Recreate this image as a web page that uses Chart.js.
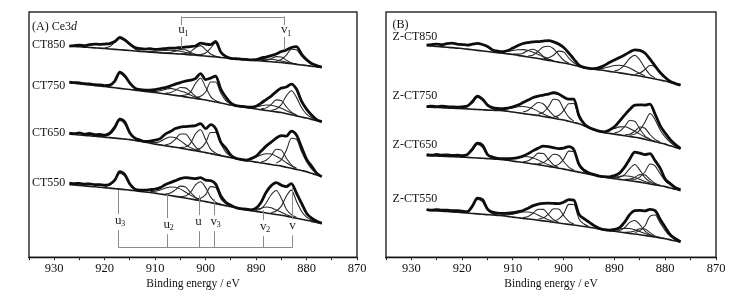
<!DOCTYPE html>
<html>
<head>
<meta charset="utf-8">
<script src="https://cdn.jsdelivr.net/npm/chart.js@4.4.1/dist/chart.umd.min.js"></script>
<style>
body{margin:0;background:#fff;}
#wrap{position:relative;width:739px;height:299px;}
#boxA{position:absolute;left:0;top:0;width:370px;height:299px;}
#boxB{position:absolute;left:370px;top:0;width:369px;height:299px;}
</style>
</head>
<body>
<div id="wrap">
  <div id="boxA"><canvas id="chartA" width="370" height="299"></canvas></div>
  <div id="boxB"><canvas id="chartB" width="369" height="299"></canvas></div>
</div>
<script>
// binding energy grid (eV), high to low
var energy = [927,926,925,924,923,922,921,920,919,918,917,916,915,914,913,912,911,910,909,908,
    907,906,905,904,903,902,901,900,899,898,897,896,895,894,893,892,891,890,889,888,
    887,886,885,884,883,882,881,880,879,878,877];

// panel A - measured spectra (stacked intensity, a.u.)
var ct850 = [211,211.5,212,211.3,212.5,213,212.6,213, 213.5,215.5,219.5,217,213,209.5,208.5,208,208.3,207.7,
    208,208.5,209,209,209.5,210,210.5,211,214,213, 212.5,215.5,205,200.5,198.6,198.3,197.9,197.6,197.2,197.3,
    199,200,201.5,203,205.5,207,209.5,210.5,203,197.5, 193.5,191.5,190];
var ct750 = [175,174.4,174.2,173.3,173.2,172.3,172.2,171.5, 172,176,185,181,174,169,167.5,167,167,167.5,
    168.5,169.5,171,173,174.5,176,177,178.5,183.5,177.5, 179,181,168,160,154,151.5,150.8,150.2,150,150.8,
    154,157.5,161,165.5,169,170,173,168,156,148, 142,137.5,135.5];
var ct650 = [124,123.5,124.2,123,123.6,122.5,122.6,122, 124,130,138,135,124,119,117,115.6,116,117,
    118.5,123,125.5,128.5,130,130.5,131,131.5,133.5,128.5, 132.5,128.5,115,109,102,98.8,97.8,97,98.5,101,
    106,111,115,119,121.5,121,126,122,110,98, 91,84,80.5];
var ct550 = [74,73.5,73.8,73,73.3,72.5,72.6,72, 73,77,85.5,82.5,73,68,67,67,67.5,68,
    69.5,72.5,74.5,76.5,78.5,79.5,79,78.5,79.5,77, 76.5,73,61.5,55,52,49.5,48.5,48,47.3,49,
    55,65,71.5,74.5,72,70.5,73.5,64,54,44, 39,36,34];

// panel A - backgrounds
var ct850Base = [211,210.6,210.3,209.9,209.6,209.2,208.9,208.5, 208.1,207.7,207.3,206.9,206.5,206.1,205.7,205.3,204.9,204.5,
    204.2,203.9,203.6,203.3,203,202.6,202.2,201.8,201.4,201, 200.5,200,199.5,199,198.5,198.1,197.7,197.3,196.9,196.5,
    196.1,195.7,195.3,194.9,194.5,193.9,193.3,192.7,192.1,191.5, 190.8,190.2,189.5];
var ct750Base = [174.5,173.9,173.4,172.8,172.2,171.6,171.1,170.5, 169.9,169.3,168.7,168.1,167.5,166.9,166.3,165.7,165.1,164.5,
    163.8,163.1,162.4,161.7,161,160.2,159.4,158.6,157.8,157, 156,155,154,153,152,151.2,150.4,149.6,148.8,148,
    147.3,146.6,145.9,145.2,144.5,143.4,142.3,141.2,140.1,139, 137.7,136.3,135];
var ct650Base = [123,122.6,122.1,121.7,121.3,120.9,120.4,120, 119.5,119,118.5,118,117.5,116.7,115.8,115,114,113,
    112.2,111.4,110.6,109.8,109,108.1,107.2,106.3,105.4,104.5, 103.5,102.5,101.5,100.5,99.5,98.5,97.5,96.5,95.8,95,
    94.2,93.4,92.6,91.8,91,89.9,88.8,87.7,86.6,85.5, 83.8,82.2,80.5];
var ct550Base = [72.5,72.1,71.6,71.2,70.8,70.4,69.9,69.5, 69,68.5,68,67.5,67,66.4,65.8,65.2,64.6,64,
    63.2,62.4,61.6,60.8,60,59.1,58.2,57.3,56.4,55.5, 54.5,53.5,52.5,51.5,50.5,49.3,48.2,47.2,46.5,45.8,
    45,44.2,43.4,42.7,42,41,40,39,38,37, 35.8,34.7,33.5];

// panel A - fitted components: [first energy, heights above background, 1 eV steps down]
var ct850Fit = [
    [920,[0.8,2.5,7,11.5,9.5,5.5,2,0.7]],
    [912,[0.3,0.7,1.3,2,2.7,3.1,3.1,2.7,2,1.3,0.7,0.3]],
    [908,[0.3,1,2.6,4.6,4.6,2.6,1,0.3]],
    [905,[0.3,1,3,7.5,10,6.5,2.5,0.8,0.3]],
    [902,[0.3,1,3,8.5,14,5,1.2,0.3,0.1]],
    [893,[0.1,0.2,0.4,0.8,1.4,2,2.4,2.2,1.6,1,0.5,0.2]],
    [889,[0.4,1.2,3,5.5,5.5,3,1,0.3]],
    [886,[1.1,3.1,8,14.5,14.5,9,4.6,1.9,0.8,0.3]]
];
var ct750Fit = [
    [920,[0.6,2,6,15,12,6,2,0.6]],
    [911,[0.4,1.2,2.6,4.5,6.3,6,5,4.3,2.6,1.3,0.5]],
    [908,[0.7,2,5,8.5,9,6,2.4,0.8]],
    [905,[0.6,1.8,5.5,15,21,13,4.5,1.5,0.5]],
    [902,[1,3,8,19,20,10,3.5,1]],
    [893,[0.3,0.6,1.2,2.4,4,5.5,6,5.5,4.3,3,1.8,0.9]],
    [889,[0.9,2.6,6.8,12,12,6.8,2.6,0.9]],
    [887,[1,2.9,8,17.8,24,18.5,9.5,4,1.7,0.6,0.2]]
];
var ct650Fit = [
    [920,[1,3,9,18,15,6,2,0.7]],
    [911,[0.5,1.5,3.5,7,9.5,9.5,7.5,4.5,2.3,1,0.4]],
    [908,[1,3,8,14,15,10,4,1.2]],
    [905,[0.7,2,6.5,17,22,13,4.5,1.5,0.5]],
    [902,[1.5,3.5,10,21,22,12,4.5,1.5]],
    [893,[0.3,0.6,2.8,5,8,10,10.5,9,7,4.5,2.5,1.2]],
    [889,[1,3.5,9,16,16,9,3.5,1]],
    [886,[2.3,6.5,17,30,30,19,10,4.5,1.6,0.5]]
];
var ct550Fit = [
    [920,[0.9,3,8,16,13.5,5.5,1.5,0.6]],
    [911,[0.8,2,4,6.5,8.5,9,8,6,3.8,2,0.8]],
    [908,[0.8,2.5,6.5,11,11,6.5,2.5,0.8]],
    [905,[0.6,2,6.5,15,19,14,5.5,1.5,0.5]],
    [902,[0.8,2.5,7,16,16,6,2,0.5]],
    [892,[0.3,0.7,2,4,6,6,4.5,3,1.5,0.6]],
    [890,[1,3.5,10,19,24,17,7,2.5,0.8]],
    [887,[1.2,3.5,9,20,27,17,8,3,1.2,0.4,0.1]]
];

// panel B - measured spectra
var zct850 = [212,212.5,213,212.4,213.5,214,213,212.5, 212,212.8,213.7,212.5,210.5,207,206,205.3,206.5,209,
    211.5,213.5,214.5,215.2,215.5,216,216.3,215.2,213,209.5, 204,198,192,189.7,188.7,188.5,189.5,191.5,194.5,197,
    199.5,202,205,207.2,206.7,204,198,191,184.5,179.5, 175.5,173.5,172];
var zct750 = [150.5,151,150.4,151,150.5,150.2,150,150.3, 151,155.5,161,158,152,149.5,148.7,148.5,149,150.3,
    152,154.5,157,159.5,161,162,163,164.3,163,160, 158,158,141.5,133.5,129.6,127.6,126,125.3,127,130.3,
    136,142,147.5,152,152.3,152,153,143,131.5,124, 117.5,112.5,108.7];
var zct650 = [102.5,102,102.6,102,102.3,101.6,102,101.5, 102.5,108,114,112,102.5,100,98.7,98.4,98.5,98.7,
    99.5,101,103.5,106.5,109,111,110.5,109.5,108.5,109, 110.5,107.5,93,87,84,82.5,81,80.5,80.3,81.5,
    84,90,98,105,104,102.5,103.5,96.5,89,78, 73.5,69.5,67.5];
var zct550 = [47.5,47,47.5,47,47,46.5,46.6,46, 45.5,51,59,57.5,48,45,44,43.8,44,44.5,
    45.5,46.7,49,51.5,53,53.7,54,53.7,53.5,55, 57.5,57,43,38.5,35,31.5,28.8,27.5,27,27.8,
    29.5,35,42.5,46.5,46.8,46.3,47.8,46.5,38,30, 22.5,18.5,15.5];

// panel B - backgrounds
var zct850Base = [211.5,211.1,210.6,210.2,209.8,209.4,208.9,208.5, 207.9,207.3,206.7,206.1,205.5,204.9,204.4,203.8,203.2,202.5,
    201.7,200.9,200.1,199.3,198.5,197.6,196.7,195.8,194.9,194, 193,191.8,190.6,189.4,188.5,187.9,187.2,186.5,185.7,185,
    184.2,183.4,182.6,181.8,181,180,179,178,177,176, 174.7,173.3,172];
var zct750Base = [150,149.8,149.6,149.4,149.1,148.9,148.7,148.5, 148.2,147.9,147.6,147.3,147,146.8,146.7,146.5,145.8,145,
    144.3,143.6,142.9,142.2,141.5,140.6,139.7,138.8,137.9,137, 135.8,134.6,133.4,131.4,129.2,127.2,125.6,124.4,123.7,123,
    122.2,121.4,120.6,119.8,119,117.8,116.6,115.4,114.2,113, 111.3,109.7,108];
var zct650Base = [101.5,101.3,101.1,100.9,100.6,100.4,100.2,100, 99.7,99.4,99.1,98.8,98.5,98.2,97.8,97.5,96.8,96,
    95.3,94.6,93.9,93.2,92.5,91.6,90.7,89.8,88.9,88, 87,86,85,84,83,82,80.8,80,79.2,78.5,
    77.8,77.1,76.4,75.7,75,74.1,73.2,72.3,71.4,70.5, 69.2,67.8,66.5];
var zct550Base = [47,46.6,46.3,45.9,45.6,45.2,44.9,44.5, 44.1,43.7,43.3,42.9,42.5,42.2,41.8,41.5,40.8,40,
    39.4,38.8,38.2,37.6,37,36.3,35.6,34.9,34.2,33.5, 32.8,32.1,31.4,30.7,30,29.2,28.2,27.2,26.5,25.9,
    25.2,24.5,23.8,23.2,22.5,21.7,20.9,20.1,19.3,18.5, 17.3,16.2,15];

// panel B - fitted components
var zct850Fit = [
    [913,[0.5,1.2,2.5,4,5.5,6.5,6.5,5.5,4,2.5,1.2,0.5]],
    [910,[0.4,1.2,3,6.5,8.5,6.5,3,1.2,0.4]],
    [907,[1,2.8,7.5,12.5,14,12.5,7.5,2.8,1]],
    [904,[0.8,2.5,6,11,11,6,2.5,0.8]],
    [894,[0.5,1.2,2.6,4.5,6.5,7.5,7.5,6.5,4.5,2.6,1.2]],
    [890,[1.2,3.5,9,16,20,16,9,3.5,1.2]],
    [886,[1,3,7.5,12.5,12.5,7.5,3.5,1.3,0.5,0.2]]
];
var zct750Fit = [
    [920,[0.7,2.2,6,12,9.5,4.5,1.5,0.5]],
    [913,[0.5,1.2,2.5,4.2,6,7,7,6,4.2,2.5,1.2,0.5]],
    [908,[1.5,4,9,13,12.5,7.5,3,1]],
    [905,[1.4,4.2,10.7,19,19,10.7,4.2,1.4]],
    [902,[1.3,3.7,9.5,17.5,19,6,1.5,0.4]],
    [893,[0.3,0.8,3,5.5,8,9,8,6,4,2.2,1,0.4]],
    [890,[1.2,3.5,9,16,16,9,3.5,1.2]],
    [888,[0.8,2.3,6,11,11,6,2.3,0.8]],
    [887,[1.2,3.2,8,17,27,22,13,7,3.5,1.3,0.4]]
];
var zct650Fit = [
    [920,[0.7,2.3,7,13.5,11,3.5,1,0.4]],
    [912,[0.5,1.3,2.8,4.5,6,6.5,6,4.5,3,1.6,0.7]],
    [908,[0.8,2.5,6.5,11.5,12,7,2.5,0.8]],
    [905,[1,3,7.5,13,13,7.5,3,1]],
    [902,[1.3,3.8,10,19,19.5,6.5,1.8,0.5]],
    [892,[0.2,0.6,1.5,3,4.2,4.5,4,2.8,1.6,0.8]],
    [890,[0.7,2.2,5.5,12,17,12,5.5,2.2,0.7]],
    [888,[0.6,1.6,4,7.5,8,4.5,1.6,0.5]],
    [887,[0.7,2,5,11,20,19,12,6,3,1.2,0.4]]
];
var zct550Fit = [
    [920,[0.5,1.3,6.5,14.5,12.5,4.5,1.2,0.4]],
    [912,[0.7,1.6,3,4.8,6.3,7,6.5,5,3.3,1.8,0.8]],
    [908,[0.8,2.5,6.5,11,11.5,7,2.6,0.8]],
    [905,[1,3,7.5,13.5,14,8,3,1]],
    [902,[1.3,3.8,10,20,20.5,7,2.5,0.8]],
    [892,[0.2,0.4,1.5,3,4.3,4.8,4.3,3.2,2,1,0.4]],
    [890,[0.5,1.5,5,11,13.5,10,4.5,1.5,0.5]],
    [888,[0.5,1.3,3,6,6.5,3.5,1.2,0.4]],
    [886,[1.5,4,9.5,20,22,15,8,3.5,1.3,0.4]]
];

// sample names and where they sit (energy, intensity)
var namesA = ["CT850","CT750","CT650","CT550"];
var nameLevelA = [212,171,124,74];
var nameEnergyA = 927.8;
var namesB = ["Z-CT850","Z-CT750","Z-CT650","Z-CT550"];
var nameLevelB = [220.3,161.3,112,58.7];
var nameEnergyB = 933.7;

// peak assignment markers in panel A
var lowTags = [["u","3"],["u","2"],["u",""],["v","3"],["v","2"],["v",""]];
var lowTagE = [917.3,907.7,901.4,898.4,888.6,882.8];
var lowTagTop = [67,63,62,58,47,70];
var lowTagText = [37,33,36,36,31,32];
var lowBracket = 9.7;
var highTags = [["u","1"],["v","1"]];
var highTagE = [904.8,884.4];
var highTagLow = [208.5,207];
var highTagText = 227;
var highBracket = 240.5;

var serif = '"Liberation Serif", "Times New Roman", serif';

function buildSets(spec, base, fit){
    var sets = [];
    sets.push({
        data: energy.map(function(e, i){ return {x: e, y: spec[i]}; }),
        borderColor: "#0d0d0d", borderWidth: 2.8, order: 0
    });
    sets.push({
        data: energy.map(function(e, i){ return {x: e, y: base[i]}; }),
        borderColor: "#1a1a1a", borderWidth: 1.6, order: 1
    });
    fit.forEach(function(f){
        var start = f[0];
        var pts = f[1].map(function(h, j){
            var e = start - j;
            return {x: e, y: base[927 - e] + h};
        });
        sets.push({data: pts, borderColor: "#262626", borderWidth: 1.05, order: 2});
    });
    return sets;
}

var framePlugin = {
    id: "frame",
    afterDraw: function(chart){
        var a = chart.chartArea;
        var c = chart.ctx;
        c.save();
        c.strokeStyle = "#111";
        c.lineWidth = 1.3;
        c.strokeRect(a.left, a.top, a.right - a.left, a.bottom - a.top);
        c.restore();
    }
};

function drawTag(c, tag, px, py){
    c.font = "13px " + serif;
    c.textAlign = "center";
    c.fillText(tag[0], px, py);
    if(tag[1]){
        var w = c.measureText(tag[0]).width;
        c.font = "8.5px " + serif;
        c.textAlign = "left";
        c.fillText(tag[1], px + w/2 - 0.5, py + 4);
    }
}

var labelsA = {
    id: "labelsA",
    afterDatasetsDraw: function(chart){
        var xs = chart.scales.x, ys = chart.scales.y, c = chart.ctx;
        c.save();
        c.fillStyle = "#111";
        c.textBaseline = "middle";
        c.font = "12px " + serif;
        c.textAlign = "right";
        namesA.forEach(function(n, i){
            c.fillText(n, xs.getPixelForValue(nameEnergyA), ys.getPixelForValue(nameLevelA[i]));
        });
        // panel tag
        c.textAlign = "left";
        var px = xs.getPixelForValue(934.4), py = ys.getPixelForValue(230.5);
        c.fillText("(A) Ce3", px, py);
        var w = c.measureText("(A) Ce3").width;
        c.font = "italic 12px " + serif;
        c.fillText("d", px + w, py);

        // markers
        c.strokeStyle = "#8a8a8a";
        c.lineWidth = 1;
        c.beginPath();
        lowTagE.forEach(function(e, i){
            var x = Math.round(xs.getPixelForValue(e)) + 0.5;
            c.moveTo(x, ys.getPixelForValue(lowTagTop[i]));
            c.lineTo(x, ys.getPixelForValue(lowTagText[i] + 6));
            c.moveTo(x, ys.getPixelForValue(lowTagText[i] - 10));
            c.lineTo(x, ys.getPixelForValue(lowBracket));
        });
        var yb = Math.round(ys.getPixelForValue(lowBracket)) + 0.5;
        c.moveTo(Math.round(xs.getPixelForValue(lowTagE[0])) + 0.5, yb);
        c.lineTo(Math.round(xs.getPixelForValue(lowTagE[lowTagE.length - 1])) + 0.5, yb);
        highTagE.forEach(function(e, i){
            var x = Math.round(xs.getPixelForValue(e)) + 0.5;
            c.moveTo(x, ys.getPixelForValue(highBracket));
            c.lineTo(x, ys.getPixelForValue(highTagText + 5));
            c.moveTo(x, ys.getPixelForValue(highTagText - 7));
            c.lineTo(x, ys.getPixelForValue(highTagLow[i]));
        });
        var yt = Math.round(ys.getPixelForValue(highBracket)) + 0.5;
        c.moveTo(Math.round(xs.getPixelForValue(highTagE[0])) + 0.5, yt);
        c.lineTo(Math.round(xs.getPixelForValue(highTagE[1])) + 0.5, yt);
        c.stroke();

        c.fillStyle = "#222";
        lowTags.forEach(function(t, i){
            drawTag(c, t, xs.getPixelForValue(lowTagE[i]), ys.getPixelForValue(lowTagText[i]));
        });
        highTags.forEach(function(t, i){
            drawTag(c, t, xs.getPixelForValue(highTagE[i]), ys.getPixelForValue(highTagText));
        });
        c.restore();
    }
};

var labelsB = {
    id: "labelsB",
    afterDatasetsDraw: function(chart){
        var xs = chart.scales.x, ys = chart.scales.y, c = chart.ctx;
        c.save();
        c.fillStyle = "#111";
        c.textBaseline = "middle";
        c.font = "12px " + serif;
        c.textAlign = "left";
        namesB.forEach(function(n, i){
            c.fillText(n, xs.getPixelForValue(nameEnergyB), ys.getPixelForValue(nameLevelB[i]));
        });
        c.fillText("(B)", xs.getPixelForValue(nameEnergyB), ys.getPixelForValue(232));
        c.restore();
    }
};

function makeChart(id, sets, pad, labelPlugin){
    return new Chart(document.getElementById(id), {
        type: "line",
        data: {datasets: sets},
        options: {
            responsive: false,
            animation: false,
            layout: {padding: pad},
            plugins: {legend: {display: false}, tooltip: {enabled: false}},
            elements: {
                point: {radius: 0, hoverRadius: 0},
                line: {cubicInterpolationMode: "monotone", fill: false}
            },
            scales: {
                x: {
                    type: "linear", reverse: true, min: 870, max: 935,
                    ticks: {
                        stepSize: 5, autoSkip: false, maxRotation: 0, minRotation: 0, padding: 1,
                        color: "#111", font: {family: serif, size: 12.5},
                        callback: function(v){ return v % 10 === 0 ? String(v) : ""; }
                    },
                    grid: {drawOnChartArea: false, drawTicks: true, tickLength: 3, color: "#111", lineWidth: 1},
                    border: {display: true, color: "#111", width: 1.3},
                    title: {
                        display: true, text: "Binding energy / eV", color: "#111",
                        font: {family: serif, size: 11.5}, padding: {top: 0, bottom: 3}
                    }
                },
                y: {display: false, min: 0, max: 245}
            }
        },
        plugins: [framePlugin, labelPlugin]
    });
}

var setsA = [].concat(
    buildSets(ct850, ct850Base, ct850Fit),
    buildSets(ct750, ct750Base, ct750Fit),
    buildSets(ct650, ct650Base, ct650Fit),
    buildSets(ct550, ct550Base, ct550Fit)
);
var setsB = [].concat(
    buildSets(zct850, zct850Base, zct850Fit),
    buildSets(zct750, zct750Base, zct750Fit),
    buildSets(zct650, zct650Base, zct650Fit),
    buildSets(zct550, zct550Base, zct550Fit)
);

makeChart("chartA", setsA, {left: 29, right: 13, top: 12, bottom: 5}, labelsA);
makeChart("chartB", setsB, {left: 16, right: 23, top: 12, bottom: 5}, labelsB);
</script>
</body>
</html>
